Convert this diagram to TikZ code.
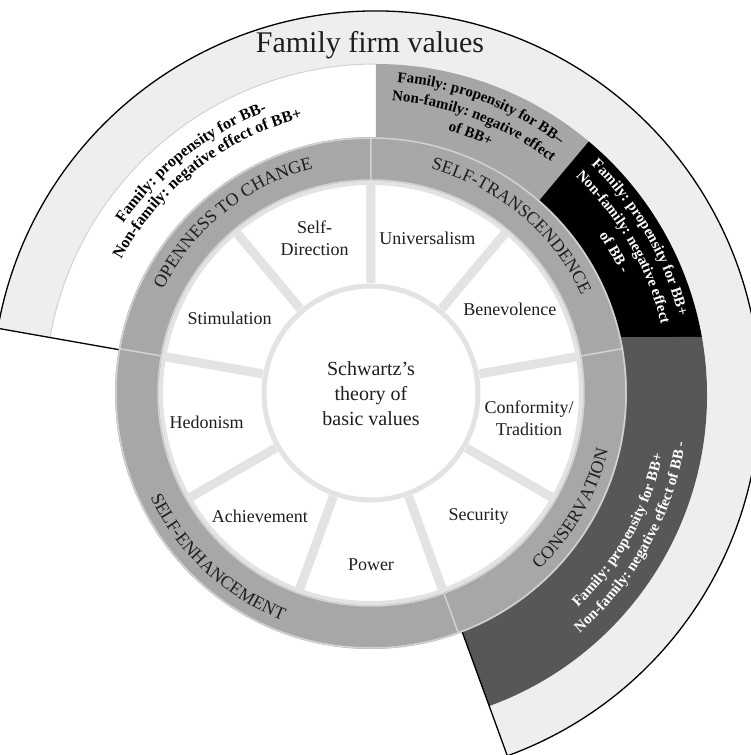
\documentclass[tikz,border=0pt]{standalone}
\usepackage{fontspec}
\setmainfont{Liberation Serif}
\usetikzlibrary{decorations.text}

\definecolor{band}{HTML}{EEEEEE}
\definecolor{ringgray}{HTML}{A9A6A6}
\definecolor{boxgray}{HTML}{A8A5A5}
\definecolor{darkbox}{HTML}{575757}
\definecolor{spoke}{HTML}{E3E3E3}
\definecolor{ringline}{HTML}{D2D2D2}
\definecolor{ink}{HTML}{1E1E1E}

\newcommand{\ringfont}{\fontsize{18}{18}\selectfont\color{ink}}
\newcommand{\boxfont}{\fontsize{15}{15}\selectfont\bfseries}
% annular sector: style, start angle, end angle, inner radius, outer radius
\newcommand{\annulus}[5]{%
  \fill[#1] (#2:#4) arc[start angle=#2,end angle=#3,radius=#4]
    -- (#3:#5) arc[start angle=#3,end angle=#2,radius=#5] -- cycle;}
% text on an arc: format, centre angle, half span, baseline radius, text
\newcommand{\overarc}[5]{%
  \path[decorate,decoration={text along path,text align=center,text={|#1|#5}}]
    ({#2+#3}:#4) arc[start angle={#2+#3},end angle={#2-#3},radius=#4];}
\newcommand{\underarc}[5]{%
  \path[decorate,decoration={text along path,text align=center,text={|#1|#5}}]
    ({#2-#3}:#4) arc[start angle={#2-#3},end angle={#2+#3},radius=#4];}

\begin{document}
\begin{tikzpicture}[x=1pt,y=1pt,
  valuelbl/.style={font=\fontsize{18}{22}\selectfont,text=ink,align=center,inner sep=0pt}]
\useasboundingbox (-371,-362) rectangle (380,393);
\coordinate (C) at (0,0);

% outer band and the four boxes, centred a bit to the right
\begin{scope}[shift={(5,-2)}]
\annulus{band}{170}{-70}{250}{384}
\annulus{white}{170}{90}{250}{331}
\annulus{boxgray}{90}{50}{250}{331}
\fill[black] (50:250) arc[start angle=50,end angle=13.4,radius=250]
  -- (10.1:331) arc[start angle=10.1,end angle=50,radius=331] -- cycle;
\fill[darkbox] (13.4:250) -- (10.1:331) arc[start angle=10.1,end angle=-70,radius=331]
  -- (-70:250) arc[start angle=-70,end angle=13.4,radius=250] -- cycle;
\draw[ringline,line width=1pt] (170:331) arc[start angle=170,end angle=90,radius=331];
\draw[line width=1.3pt] (170:250) -- (170:384) arc[start angle=170,end angle=-70,radius=384] -- (-70:250);
\end{scope}

% grey ring with its four segments
\fill[ringgray,even odd rule] (C) circle[radius=256] (C) circle[radius=212];
\draw[ringline,line width=1.5pt] (C) circle[radius=255] (C) circle[radius=213];
\draw[ringline,line width=1.5pt] (90:212) -- (90:256) (10:212) -- (10:256)
  (170:212) -- (170:256) (-70:212) -- (-70:256);

% value sectors
\fill[white] (C) circle[radius=211];
\draw[spoke,line width=9pt] (90:110) -- (90:212) (50:110) -- (50:212) (10:110) -- (10:212)
  (-30:110) -- (-30:212) (-70:110) -- (-70:212) (-110:110) -- (-110:212)
  (-150:110) -- (-150:212) (170:110) -- (170:212) (130:110) -- (130:212);
\draw[spoke,line width=4pt] (C) circle[radius=210];
\filldraw[fill=white,draw=spoke,line width=5pt] (C) circle[radius=107];

% ring labels
\overarc{\ringfont}{129}{60}{232}{OPENNESS TO CHANGE}
\overarc{\ringfont}{50}{60}{232}{SELF-TRANSCENDENCE}
\underarc{\ringfont}{227}{60}{244}{SELF-ENHANCEMENT}
\underarc{\ringfont}{-30}{60}{244}{CONSERVATION}

% box texts
\overarc{\fontsize{16}{16}\selectfont\bfseries}{128}{60}{300}{Family: propensity for BB-}
\overarc{\fontsize{16}{16}\selectfont\bfseries}{128}{60}{283}{Non-family: negative effect of BB+}
\overarc{\boxfont}{69}{45}{312}{Family: propensity for BB–}
\overarc{\boxfont}{69}{45}{293}{Non-family: negative effect}
\overarc{\boxfont}{69}{45}{274}{of BB+}
\overarc{\boxfont\color{white}}{30}{45}{317}{Family: propensity for BB+}
\overarc{\boxfont\color{white}}{30}{45}{298}{Non-family: negative effect}
\overarc{\boxfont\color{white}}{30}{45}{277}{of BB -}
\underarc{\boxfont\color{white}}{-29}{60}{298}{Family: propensity for BB+}
\underarc{\boxfont\color{white}}{-29}{60}{318}{Non-family: negative effect of BB -}

% values
\node[valuelbl] (selfdir) at (110:165) {Self-\\Direction};
\node[valuelbl] (univ) at (70:165) {Universalism};
\node[valuelbl] (benev) at (31:162) {Benevolence};
\node[valuelbl] (conform) at (-9:160) {Conformity/\\Tradition};
\node[valuelbl] (secur) at (-49:164) {Security};
\node[valuelbl] (power) at (-90:172) {Power};
\node[valuelbl] (achiev) at (-132:166) {Achievement};
\node[valuelbl] (hedon) at (190:167) {Hedonism};
\node[valuelbl] (stimul) at (152:160) {Stimulation};

\node[font=\fontsize{20}{25}\selectfont,text=ink,align=center] (core) at (0,-1)
  {Schwartz’s\\theory of\\basic values};
\node[font=\fontsize{30}{30}\selectfont,text=ink,anchor=base] (title) at (-1,340) {Family firm values};
\end{tikzpicture}
\end{document}
